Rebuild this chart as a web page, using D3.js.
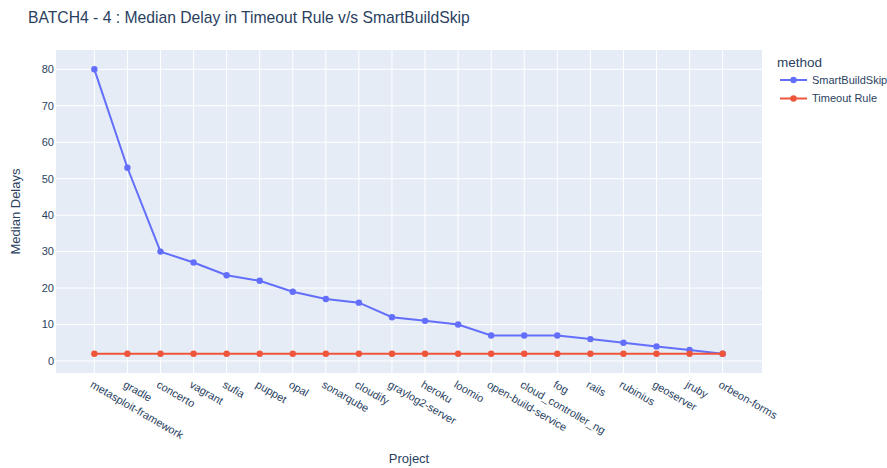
<!DOCTYPE html>
<html lang="en">
<head>
  <meta charset="UTF-8">
  <title>Median Delay in Timeout Rule v/s SmartBuildSkip</title>
  <script src="https://d3js.org/d3.v7.min.js"></script>
  <style>
    body { margin: 0; background: #fff; font-family: "Liberation Sans", Arial, sans-serif; }
    svg { display: block; }
    .grid line { stroke: #fff; stroke-width: 1; }
  </style>
</head>
<body>
<svg width="887" height="468"></svg>
<script>
const projects = ["metasploit-framework", "gradle", "concerto", "vagrant", "sufia", "puppet",
  "opal", "sonarqube", "cloudify", "graylog2-server", "heroku", "loomio", "open-build-service",
  "cloud_controller_ng", "fog", "rails", "rubinius", "geoserver", "jruby", "orbeon-forms"];
const smartBuildSkip = [80, 53, 30, 27, 23.5, 22, 19, 17, 16, 12, 11, 10, 7, 7, 7, 6, 5, 4, 3, 2];
const timeoutRule = [2, 2, 2, 2, 2, 2, 2, 2, 2, 2, 2, 2, 2, 2, 2, 2, 2, 2, 2, 2];
const yTicks = [0, 10, 20, 30, 40, 50, 60, 70, 80];

const series = [
  { name: "SmartBuildSkip", values: smartBuildSkip, color: "#636efa" },
  { name: "Timeout Rule", values: timeoutRule, color: "#EF553B" }
];

const svg = d3.select("svg");
const plot = { left: 56, right: 762, top: 50, bottom: 373 };
const ink = "#2a3f5f";

// category index scale, padded like plotly's autorange
const x = d3.scaleLinear().domain([-1.16, projects.length - 1 + 1.19]).range([plot.left, plot.right]);
const y = d3.scaleLinear().domain([-3.3, 85.3]).range([plot.bottom, plot.top]);

svg.append("rect")
  .attr("x", plot.left).attr("y", plot.top)
  .attr("width", plot.right - plot.left).attr("height", plot.bottom - plot.top)
  .attr("fill", "#E5ECF6");

const grid = svg.append("g").attr("class", "grid");
grid.selectAll(".vx").data(projects).enter().append("line")
  .attr("x1", (d, i) => x(i)).attr("x2", (d, i) => x(i))
  .attr("y1", plot.top).attr("y2", plot.bottom);
grid.selectAll(".hy").data(yTicks).enter().append("line")
  .attr("x1", plot.left).attr("x2", plot.right)
  .attr("y1", d => y(d)).attr("y2", d => y(d))
  .attr("stroke-width", d => d === 0 ? 2 : 1);

// y tick labels
svg.append("g").selectAll("text").data(yTicks).enter().append("text")
  .attr("x", plot.left - 2).attr("y", d => y(d)).attr("dy", "0.35em")
  .attr("text-anchor", "end")
  .attr("fill", ink).attr("font-size", 11)
  .text(d => d);

// x tick labels, rotated 30deg
svg.append("g").selectAll("text").data(projects).enter().append("text")
  .attr("transform", (d, i) => `translate(${x(i) - 1},${plot.bottom + 7}) rotate(30)`)
  .attr("dy", "0.7em")
  .attr("fill", ink).attr("font-size", 11)
  .text(d => d);

const line = d3.line().x((d, i) => x(i)).y(d => y(d));

series.forEach(s => {
  svg.append("path")
    .attr("d", line(s.values))
    .attr("fill", "none")
    .attr("stroke", s.color)
    .attr("stroke-width", 2);
  svg.append("g").selectAll("circle").data(s.values).enter().append("circle")
    .attr("cx", (d, i) => x(i)).attr("cy", d => y(d))
    .attr("r", 3.2).attr("fill", s.color);
});

// titles
svg.append("text").attr("x", 28).attr("y", 22.5)
  .attr("fill", ink).attr("font-size", 15.7)
  .text("BATCH4 - 4 : Median Delay in Timeout Rule v/s SmartBuildSkip");

svg.append("text").attr("x", (plot.left + plot.right) / 2).attr("y", 463)
  .attr("text-anchor", "middle").attr("fill", ink).attr("font-size", 13)
  .text("Project");

svg.append("text")
  .attr("transform", `translate(20,${(plot.top + plot.bottom) / 2}) rotate(-90)`)
  .attr("text-anchor", "middle").attr("fill", ink).attr("font-size", 13)
  .text("Median Delays");

// legend
const legend = svg.append("g").attr("transform", "translate(777,0)");
legend.append("text").attr("x", 0).attr("y", 67)
  .attr("fill", ink).attr("font-size", 13.5).text("method");
series.forEach((s, i) => {
  const ly = 80 + i * 18.5;
  legend.append("line")
    .attr("x1", 3).attr("x2", 30).attr("y1", ly).attr("y2", ly)
    .attr("stroke", s.color).attr("stroke-width", 2);
  legend.append("circle").attr("cx", 16.5).attr("cy", ly).attr("r", 3.2).attr("fill", s.color);
  legend.append("text").attr("x", 35).attr("y", ly).attr("dy", "0.35em")
    .attr("fill", ink).attr("font-size", 11).text(s.name);
});
</script>
</body>
</html>
